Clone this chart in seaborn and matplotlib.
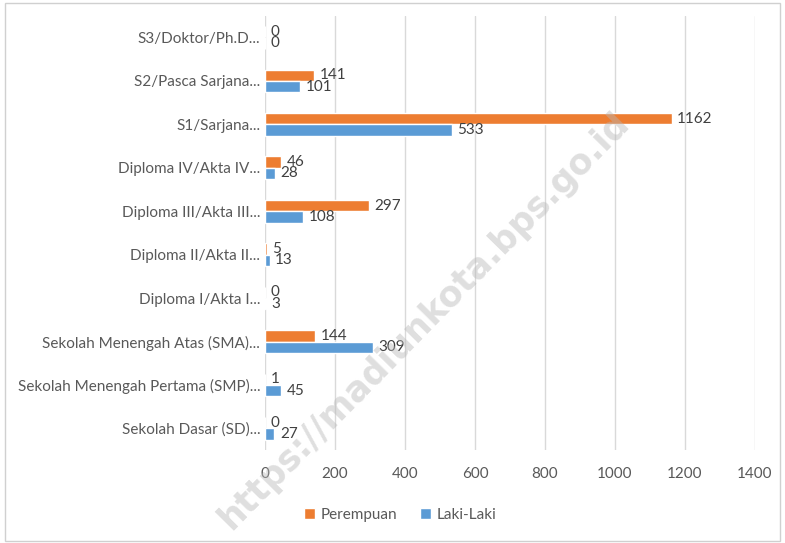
import numpy as np
import pandas as pd
import matplotlib.pyplot as plt
import seaborn as sns
from matplotlib.patches import Rectangle

kategori = ['S3/Doktor/Ph.D...', 'S2/Pasca Sarjana...', 'S1/Sarjana...',
            'Diploma IV/Akta IV...', 'Diploma III/Akta III...', 'Diploma II/Akta II...',
            'Diploma I/Akta I...', 'Sekolah Menengah Atas (SMA)...',
            'Sekolah Menengah Pertama (SMP)...', 'Sekolah Dasar (SD)...']
perempuan = [0, 141, 1162, 46, 297, 5, 0, 144, 1, 0]
laki_laki = [0, 101, 533, 28, 108, 13, 3, 309, 45, 27]

df = pd.DataFrame({'kategori': kategori * 2,
                   'jumlah': perempuan + laki_laki,
                   'jenis': ['Perempuan'] * len(kategori) + ['Laki-Laki'] * len(kategori)})

sns.set_style('white')
plt.rcParams['font.family'] = ['Lato', 'DejaVu Sans']
txt = '#595959'

fig = plt.figure(figsize=(7.85, 5.43), dpi=100)
ax = fig.add_axes([0.3376, 0.171, 0.6242, 0.8])
sns.barplot(data=df, y='kategori', x='jumlah', hue='jenis', order=kategori,
            hue_order=['Perempuan', 'Laki-Laki'], palette=['#ED7D31', '#5B9BD5'],
            orient='h', width=0.52, ax=ax, saturation=1)

for cont in ax.containers:
    ax.bar_label(cont, padding=4, fontsize=11, color='#404040')

ax.set_xlim(0, 1400)
ax.set_ylim(9.5, -0.5)
ax.set_xticks(np.arange(0, 1401, 200))
ax.xaxis.grid(True, color='#d9d9d9', linewidth=1)
ax.set_axisbelow(True)
for s in ax.spines.values():
    s.set_visible(False)
ax.set_xlabel('')
ax.set_ylabel('')
ax.tick_params(axis='both', length=0, labelsize=11, labelcolor=txt)
ax.tick_params(axis='x', pad=12)

handles, labels = ax.get_legend_handles_labels()
ax.get_legend().remove()
fig.legend(handles, labels, loc='center', bbox_to_anchor=(0.51, 0.052), ncol=2, frameon=False,
           fontsize=11, labelcolor=txt, handlelength=0.7, handleheight=0.7,
           handletextpad=0.4, columnspacing=1.5)

fig.patches.append(Rectangle((0.006, 0.004), 0.988, 0.99, transform=fig.transFigure,
                             fill=False, edgecolor='#d0d0d0', linewidth=1))

fig.text(0.54, 0.41, 'https://madiunkota.bps.go.id', rotation=45.5, ha='center', va='center',
         fontsize=25, fontweight='bold', color='#b8b8b8', alpha=0.45,
         family=['DejaVu Sans'])

fig.savefig('out.png', dpi=100)
